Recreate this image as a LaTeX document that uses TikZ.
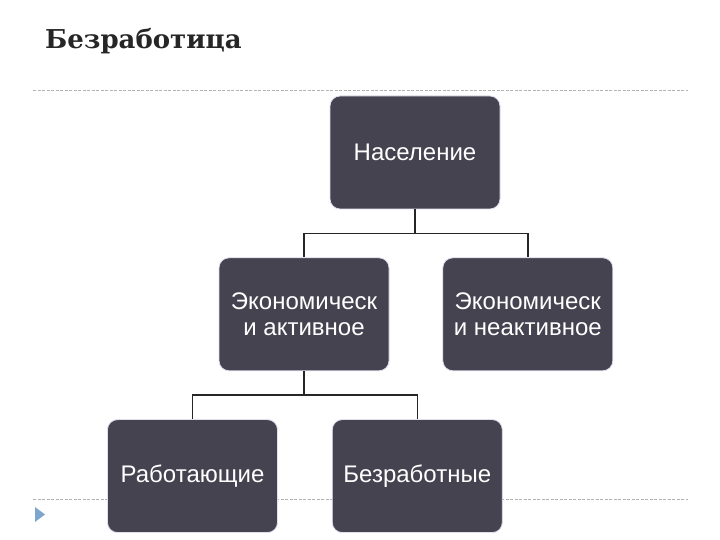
\documentclass[tikz,border=0pt]{standalone}
\usepackage{fontspec}
\setmainfont{Liberation Sans}
\newfontfamily\titlefont{DejaVu Serif}
\usetikzlibrary{positioning}
\definecolor{boxfill}{RGB}{70,67,81}
\definecolor{boxedge}{RGB}{225,222,240}
\definecolor{rulegray}{RGB}{178,178,178}
\definecolor{markblue}{RGB}{125,165,205}

\begin{document}
\begin{tikzpicture}[x=1pt, y=1pt, node distance=48pt,
  unit/.style={draw=boxedge, line width=0.8pt, fill=boxfill, rounded corners=10pt,
    minimum width=170pt, minimum height=113pt, inner sep=0pt, align=center,
    text=white, font=\fontsize{24}{26}\selectfont},
  link/.style={draw=black!85, line width=1.4pt},
  rule/.style={draw=rulegray, line width=0.7pt, dash pattern=on 3pt off 1.5pt}]
%
\useasboundingbox (0,0) rectangle (720,540);
%
\node (title) [anchor=base west, inner sep=0pt, text=black!85] at (45,491)
  {\titlefont\bfseries\fontsize{26}{31}\selectfont Безработица};
%
\coordinate (R1) at (33,450);
\coordinate (R2) at (688,450);
\coordinate (R3) at (33,41);
\coordinate (R4) at (688,41);
\draw[rule] (R1) -- (R2);
\draw[rule] (R3) -- (R4);
\fill[markblue] (35,33) -- (45,25.5) -- (35,18) -- cycle;
%
\node (pop) [unit] at (415,387.5) {Население};
\node (act) [unit, below=of pop, xshift=-111pt] {Экономическ\\и активное};
\node (inact) [unit, right=53pt of act] {Экономическ\\и неактивное};
\node (work) [unit, below=of act, xshift=-111.5pt] {Работающие};
\node (unemp) [unit, right=54pt of work] {Безработные};
%
\path[link] (pop.south) -- ++(0,-24) -| (act.north);
\path[link] (pop.south) -- ++(0,-24) -| (inact.north);
\path[link] (act.south) -- ++(0,-24) -| (work.north);
\path[link] (act.south) -- ++(0,-24) -| (unemp.north);
\end{tikzpicture}
\end{document}
